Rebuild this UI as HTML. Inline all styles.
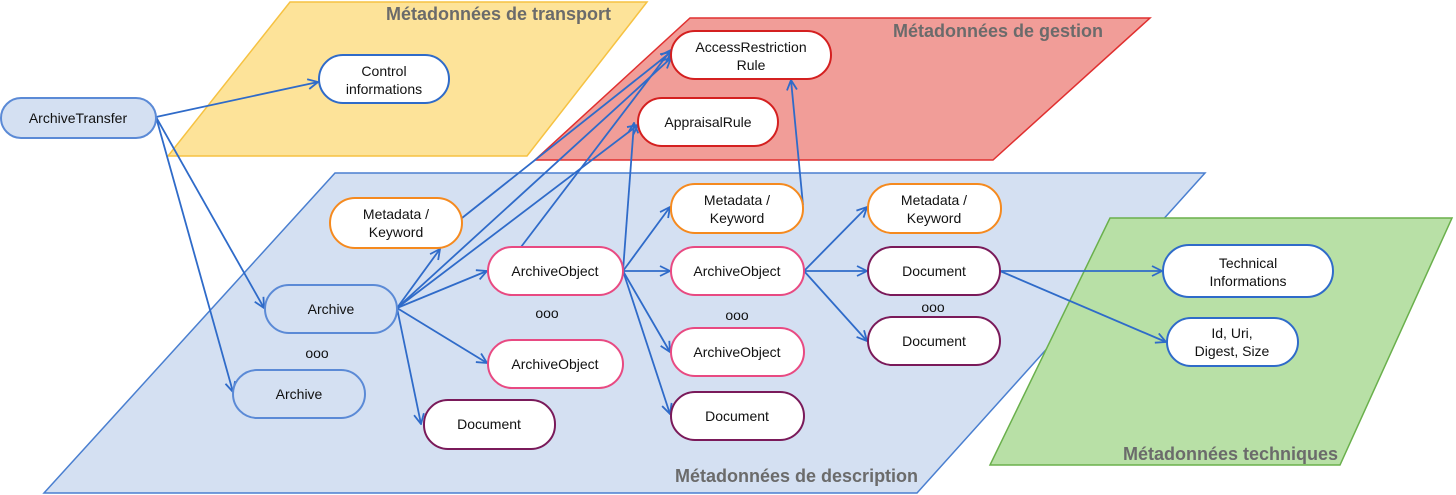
<!DOCTYPE html>
<html><head><meta charset="utf-8"><style>
html,body{margin:0;padding:0;background:#fff;}
svg{display:block;font-family:"Liberation Sans",Arial,sans-serif;}
.n{font-size:14px;fill:#111;text-anchor:middle;}
.t{font-size:18px;font-weight:bold;fill:#6b6b6b;}
.e{stroke:#2f6bc9;stroke-width:1.8;fill:none;marker-end:url(#a);}
</style></head><body>
<svg width="1456" height="495" viewBox="0 0 1456 495">
<defs><marker id="a" viewBox="0 0 12 12" refX="11" refY="6" markerWidth="12" markerHeight="12" markerUnits="userSpaceOnUse" orient="auto"><polyline points="1,1 11,6 1,11" fill="none" stroke="#2f6bc9" stroke-width="1.8"/></marker></defs>
<polygon points="290,2 647,2 527,156 168,156" fill="#fde399" stroke="#f6c242" stroke-width="1.5"/>
<polygon points="690,18 1150,18 993,160 535,160" fill="#f19d98" stroke="#e03030" stroke-width="1.5"/>
<polygon points="335,173 1205,173 917,493 44,493" fill="#d4e0f2" stroke="#4a7fd0" stroke-width="1.5"/>
<polygon points="1110,218 1452,218 1340,465 990,465" fill="#b8e0a6" stroke="#6ab04c" stroke-width="1.5"/>
<text class="t" x="386" y="20">Métadonnées de transport</text>
<text class="t" x="893" y="37">Métadonnées de gestion</text>
<text class="t" x="675" y="482">Métadonnées de description</text>
<text class="t" x="1123" y="460">Métadonnées techniques</text>
<g>
<line class="e" x1="156" y1="117" x2="318" y2="82"/>
<line class="e" x1="156" y1="117" x2="264" y2="308"/>
<line class="e" x1="156" y1="117" x2="233" y2="392"/>
<line class="e" x1="397" y1="308" x2="440" y2="249"/>
<line class="e" x1="397" y1="308" x2="487" y2="271"/>
<line class="e" x1="397" y1="308" x2="487" y2="363"/>
<line class="e" x1="397" y1="308" x2="421" y2="424"/>
<line class="e" x1="397" y1="308" x2="671" y2="58"/>
<line class="e" x1="397" y1="308" x2="638" y2="125"/>
<line class="e" x1="462" y1="218" x2="671" y2="52"/>
<line class="e" x1="521" y1="247" x2="671" y2="50"/>
<line class="e" x1="623" y1="271" x2="634" y2="123"/>
<line class="e" x1="803" y1="205" x2="791" y2="80"/>
<line class="e" x1="623" y1="271" x2="670" y2="207"/>
<line class="e" x1="623" y1="271" x2="670" y2="271"/>
<line class="e" x1="623" y1="271" x2="670" y2="352"/>
<line class="e" x1="623" y1="271" x2="670" y2="414"/>
<line class="e" x1="804" y1="271" x2="867" y2="207"/>
<line class="e" x1="804" y1="271" x2="867" y2="271"/>
<line class="e" x1="804" y1="271" x2="867" y2="341"/>
<line class="e" x1="1000" y1="271" x2="1162" y2="271"/>
<line class="e" x1="1000" y1="271" x2="1166" y2="342"/>
</g>
<g stroke-width="2">
<rect x="1" y="98" width="155" height="40" rx="20" fill="#d4e0f2" stroke="#5b8ad6"/>
<rect x="319" y="55" width="130" height="48" rx="24" fill="#fff" stroke="#2f6bc9"/>
<rect x="671" y="31" width="160" height="48" rx="24" fill="#fff" stroke="#d42020"/>
<rect x="638" y="98" width="140" height="48" rx="24" fill="#fff" stroke="#d42020"/>
<rect x="330" y="198" width="132" height="50" rx="25" fill="#fff" stroke="#f58a1f"/>
<rect x="265" y="285" width="132" height="48" rx="24" fill="#d4e0f2" stroke="#5b8ad6"/>
<rect x="233" y="370" width="132" height="48" rx="24" fill="#d4e0f2" stroke="#5b8ad6"/>
<rect x="488" y="247" width="135" height="48" rx="24" fill="#fff" stroke="#e84a82"/>
<rect x="488" y="340" width="135" height="48" rx="24" fill="#fff" stroke="#e84a82"/>
<rect x="424" y="400" width="131" height="49" rx="24" fill="#fff" stroke="#7a1a5a"/>
<rect x="671" y="184" width="132" height="49" rx="24" fill="#fff" stroke="#f58a1f"/>
<rect x="671" y="247" width="133" height="48" rx="24" fill="#fff" stroke="#e84a82"/>
<rect x="671" y="328" width="133" height="48" rx="24" fill="#fff" stroke="#e84a82"/>
<rect x="671" y="392" width="133" height="48" rx="24" fill="#fff" stroke="#7a1a5a"/>
<rect x="868" y="184" width="133" height="49" rx="24" fill="#fff" stroke="#f58a1f"/>
<rect x="868" y="247" width="132" height="48" rx="24" fill="#fff" stroke="#7a1a5a"/>
<rect x="868" y="317" width="132" height="48" rx="24" fill="#fff" stroke="#7a1a5a"/>
<rect x="1163" y="245" width="170" height="52" rx="26" fill="#fff" stroke="#2f6bc9"/>
<rect x="1167" y="318" width="131" height="48" rx="24" fill="#fff" stroke="#2f6bc9"/>
</g>
<g class="n">
<text x="78" y="123">ArchiveTransfer</text>
<text x="384" y="76">Control</text><text x="384" y="94">informations</text>
<text x="751" y="52">AccessRestriction</text><text x="751" y="70">Rule</text>
<text x="708" y="127">AppraisalRule</text>
<text x="396" y="219">Metadata /</text><text x="396" y="237">Keyword</text>
<text x="331" y="314">Archive</text>
<text x="299" y="399">Archive</text>
<text x="317" y="358">ooo</text>
<text x="555" y="276">ArchiveObject</text>
<text x="547" y="318">ooo</text>
<text x="555" y="369">ArchiveObject</text>
<text x="489" y="429">Document</text>
<text x="737" y="205">Metadata /</text><text x="737" y="223">Keyword</text>
<text x="737" y="276">ArchiveObject</text>
<text x="737" y="320">ooo</text>
<text x="737" y="357">ArchiveObject</text>
<text x="737" y="421">Document</text>
<text x="934" y="205">Metadata /</text><text x="934" y="223">Keyword</text>
<text x="934" y="276">Document</text>
<text x="933" y="312">ooo</text>
<text x="934" y="346">Document</text>
<text x="1248" y="268">Technical</text><text x="1248" y="286">Informations</text>
<text x="1232" y="338">Id, Uri,</text><text x="1232" y="356">Digest, Size</text>
</g>
</svg>
</body></html>
